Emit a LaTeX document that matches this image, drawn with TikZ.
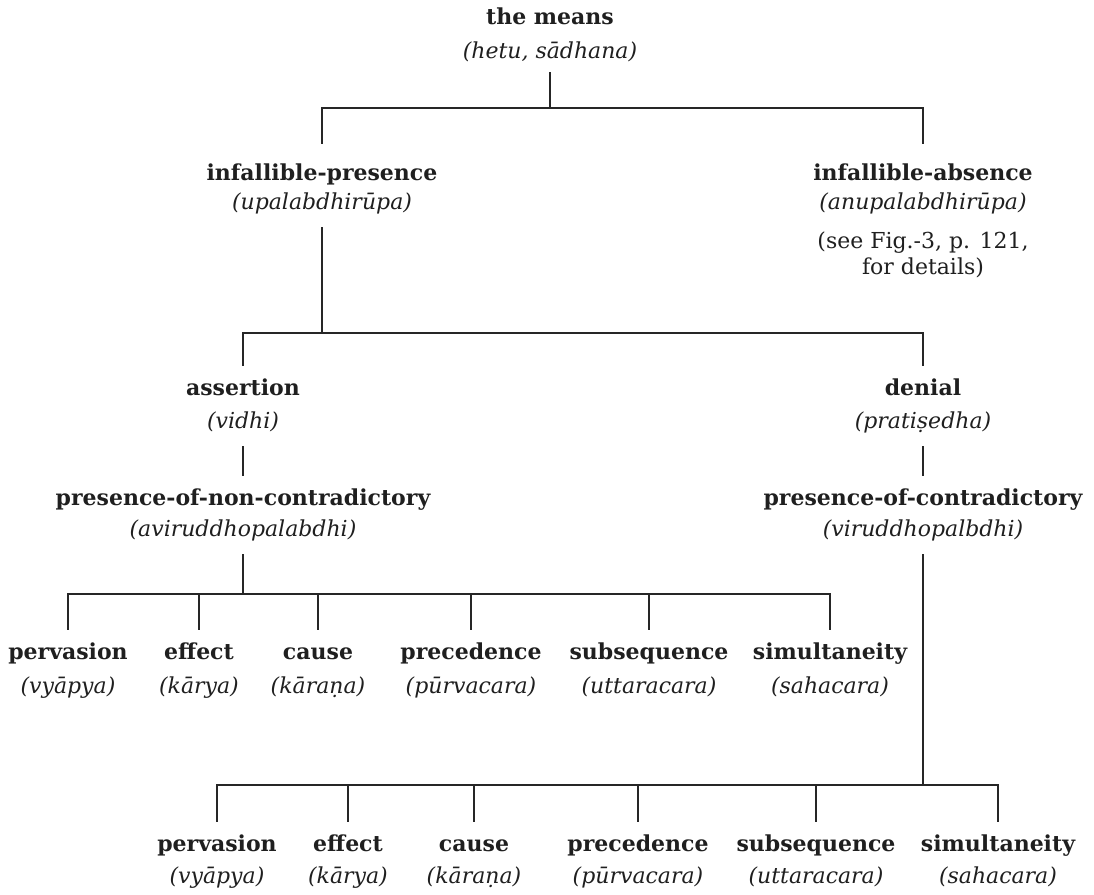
\documentclass[tikz,border=0pt]{standalone}
\usepackage{fontspec}
\setmainfont{DejaVu Serif}
\begin{document}
\begin{tikzpicture}[x=0.5pt,y=-0.5pt,
  lab/.style={inner sep=0pt, anchor=base, text height=8.5pt, text depth=3pt, text=black!88},
  ttl/.style={lab, font=\fontsize{11}{13}\selectfont\bfseries},
  sub/.style={lab, font=\fontsize{11}{13}\selectfont\itshape},
  note/.style={lab, font=\fontsize{11}{13}\selectfont},
  conn/.style={line width=0.8pt, draw=black!85, shorten <=6pt, shorten >=6pt}]
\useasboundingbox (0,0) rectangle (1094,895);

% root
\node[ttl] (rt) at (550,24) {the means};
\node[sub] (rts) at (550,58) {(hetu, sādhana)};
% level 1
\node[ttl] (ip) at (322,180) {infallible-presence};
\node[sub] (ips) at (322,209) {(upalabdhirūpa)};
\node[ttl] (ia) at (923,180) {infallible-absence};
\node[sub] (ias) at (923,209) {(anupalabdhirūpa)};
\node[note] (ian1) at (923,248) {(see Fig.-3, p. 121,};
\node[note] (ian2) at (923,274) {for details)};
% level 2
\node[ttl] (as) at (243,395) {assertion};
\node[sub] (ass) at (243,428) {(vidhi)};
\node[ttl] (de) at (923,395) {denial};
\node[sub] (des) at (923,428) {(pratiṣedha)};
% level 3
\node[ttl] (pn) at (243,505) {presence-of-non-contradictory};
\node[sub] (pns) at (243,536) {(aviruddhopalabdhi)};
\node[ttl] (pc) at (923,505) {presence-of-contradictory};
\node[sub] (pcs) at (923,536) {(viruddhopalbdhi)};

% bar coordinates
\coordinate (b0) at (550,108);
\coordinate (b1) at (322,333);
\coordinate (b2) at (243,594);
\coordinate (b3) at (923,785);

% connectors upper levels
\draw[conn, shorten <=4pt, shorten >=9.5pt] (rts.south) -- (b0) -| (ip.north);
\draw[conn, shorten <=4pt, shorten >=9.5pt] (rts.south) -- (b0) -| (ia.north);
\draw[conn] (ips.south) -- (b1) -| (as.north);
\draw[conn] (ips.south) -- (b1) -| (de.north);
\draw[conn] (ass.south) -- (pn.north);
\draw[conn] (des.south) -- (pc.north);

% left group of six
\foreach \n/\x/\t/\s in {1/68/pervasion/(vyāpya), 2/199/effect/(kārya), 3/318/cause/(kāraṇa), 4/471/precedence/(pūrvacara), 5/649/subsequence/(uttaracara), 6/830/simultaneity/(sahacara)}{
  \node[ttl] (a\n) at (\x,659) {\t};
  \node[sub] (as\n) at (\x,693) {\s};
  \draw[conn] (pns.south) -- (b2) -| (a\n.north);
}
% right group of six
\foreach \n/\x/\t/\s in {1/217/pervasion/(vyāpya), 2/348/effect/(kārya), 3/474/cause/(kāraṇa), 4/638/precedence/(pūrvacara), 5/816/subsequence/(uttaracara), 6/998/simultaneity/(sahacara)}{
  \node[ttl] (c\n) at (\x,851) {\t};
  \node[sub] (cs\n) at (\x,883) {\s};
  \draw[conn] (pcs.south) -- (b3) -| (c\n.north);
}
\end{tikzpicture}
\end{document}
